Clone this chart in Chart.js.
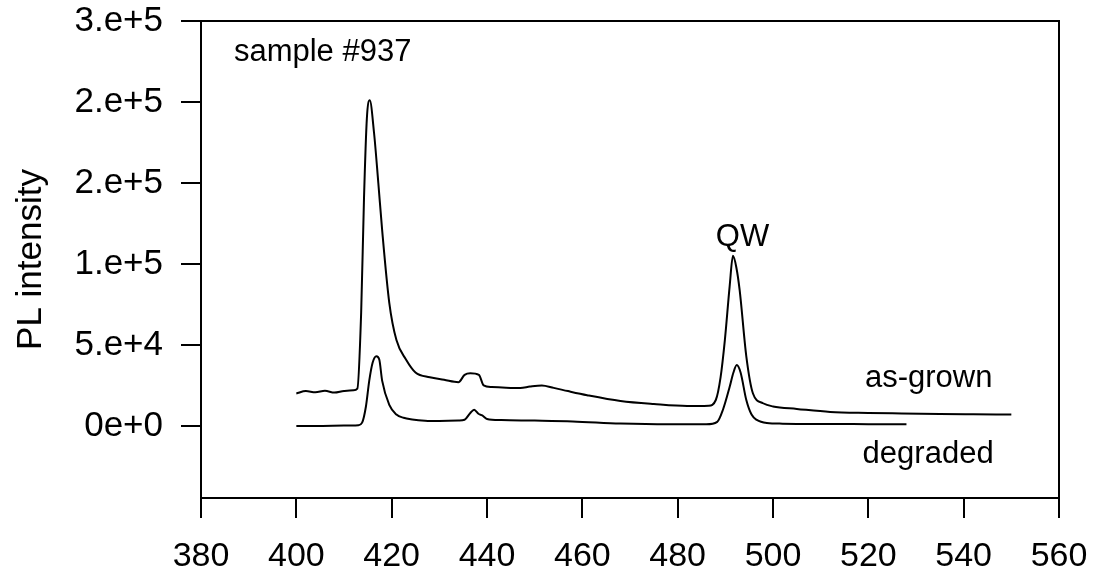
<!DOCTYPE html>
<html lang="en">
<head>
    <meta charset="UTF-8">
    <title>PL intensity - sample #937</title>
    <style>
        html, body { margin: 0; padding: 0; background: #ffffff; }
        #wrap { width: 1098px; height: 580px; }
    </style>
</head>
<body>
    <div id="wrap">
        <canvas id="plChart" width="1098" height="580"></canvas>
    </div>

    <script src="https://cdn.jsdelivr.net/npm/chart.js"></script>
    <script>
        // wavelength (nm) and PL intensity
        const asGrownX = [400, 402, 404, 406, 408, 410, 412, 412.8, 413.6, 414.2, 414.8, 415.4, 416.3, 417.2, 418, 419.5, 421, 423, 425, 428, 431, 434, 435.3, 436.5, 438.3, 439.3, 441, 444, 447, 449, 451.5, 454, 457, 461, 468, 475, 482, 486.5, 488, 489, 489.9, 490.9, 491.6, 492.3, 493, 494.4, 495.8, 497.9, 500, 505, 512, 520, 527, 535, 542, 550];
        const asGrownY = [20000, 21500, 20800, 21700, 20600, 21600, 22000, 23000, 70000, 141000, 190000, 201000, 181000, 150000, 121000, 76000, 53000, 41000, 33000, 30000, 28500, 27000, 31500, 32500, 31500, 25000, 24000, 23600, 23400, 24300, 25000, 23500, 21500, 19000, 15400, 13500, 12300, 12500, 16000, 30000, 53000, 86000, 105000, 98000, 84000, 43000, 20000, 14000, 12000, 10500, 8600, 8000, 7700, 7400, 7200, 7000];

        const degradedX = [400, 405, 410, 413, 413.8, 414.6, 415.3, 416, 416.8, 417.4, 418, 419.5, 421, 422.5, 424.3, 427, 430, 434, 435.3, 436.5, 437.3, 438.2, 439, 440, 443, 450, 458, 468, 478, 486, 488.3, 489.5, 490.9, 491.7, 492.4, 493.2, 494.4, 495.5, 496.6, 498.7, 502, 512, 520, 528];
        const degradedY = [0, 0, 200, 400, 2000, 12000, 28000, 39000, 43000, 41000, 28000, 13000, 7000, 5000, 4000, 3200, 3000, 3300, 3800, 8000, 10000, 7500, 6500, 4300, 3600, 3300, 2800, 1500, 1000, 1000, 2500, 10000, 24000, 33000, 37600, 33000, 16000, 7000, 3700, 1800, 1400, 1200, 1100, 1000];

        const xTicks = [380, 400, 420, 440, 460, 480, 500, 520, 540, 560];
        const yTickValues = [0, 50000, 100000, 150000, 200000, 250000];
        const yTickLabels = ['0e+0', '5.e+4', '1.e+5', '2.e+5', '2.e+5', '3.e+5'];

        // text labels placed in data units
        const notes = [
            { text: 'sample #937', x: 386.9, y: 225300, align: 'left' },
            { text: 'QW', x: 493.6, y: 111100, align: 'center' },
            { text: 'as-grown', x: 519.3, y: 24100, align: 'left' },
            { text: 'degraded', x: 518.8, y: -22800, align: 'left' }
        ];

        const FONT = "'Liberation Sans', Arial, Helvetica, sans-serif";

        function toPoints(xs, ys) {
            return xs.map((x, i) => ({ x: x, y: ys[i] }));
        }

        // keep tick label overhang from pushing the plot area around
        function noOverhang(s) {
            s.paddingTop = 0;
            s.paddingBottom = 0;
            s.paddingLeft = 0;
            s.paddingRight = 0;
        }

        const framePlugin = {
            id: 'frameAndNotes',
            afterDraw(chart) {
                const { ctx, chartArea, scales } = chart;
                ctx.save();
                ctx.strokeStyle = '#000';
                ctx.lineWidth = 2;
                ctx.strokeRect(chartArea.left, chartArea.top, chartArea.right - chartArea.left, chartArea.bottom - chartArea.top);

                ctx.fillStyle = '#000';
                ctx.font = '31px ' + FONT;
                ctx.textBaseline = 'alphabetic';
                notes.forEach(n => {
                    ctx.textAlign = n.align;
                    ctx.fillText(n.text, scales.x.getPixelForValue(n.x), scales.y.getPixelForValue(n.y));
                });
                ctx.restore();
            }
        };

        const ctx = document.getElementById('plChart').getContext('2d');
        new Chart(ctx, {
            type: 'line',
            data: {
                datasets: [{
                    label: 'as-grown',
                    data: toPoints(asGrownX, asGrownY),
                    borderColor: '#000',
                    borderWidth: 2,
                    pointRadius: 0,
                    cubicInterpolationMode: 'monotone',
                    fill: false
                }, {
                    label: 'degraded',
                    data: toPoints(degradedX, degradedY),
                    borderColor: '#000',
                    borderWidth: 2,
                    pointRadius: 0,
                    cubicInterpolationMode: 'monotone',
                    fill: false
                }]
            },
            options: {
                responsive: false,
                animation: false,
                layout: { padding: { top: 21, right: 39, left: 0, bottom: 0 } },
                plugins: {
                    legend: { display: false },
                    tooltip: { enabled: false }
                },
                scales: {
                    x: {
                        type: 'linear',
                        min: 380,
                        max: 560,
                        afterBuildTicks: s => { s.ticks = xTicks.map(v => ({ value: v })); },
                        afterFit: s => { s.height = 82; noOverhang(s); },
                        border: { display: true, color: '#000', width: 2 },
                        grid: { drawOnChartArea: false, drawTicks: true, tickLength: 20, color: '#000', lineWidth: 2 },
                        ticks: { color: '#000', padding: 18, maxRotation: 0, font: { family: FONT, size: 34 } }
                    },
                    y: {
                        type: 'linear',
                        min: -44500,
                        max: 250000,
                        afterBuildTicks: s => { s.ticks = yTickValues.map(v => ({ value: v })); },
                        afterFit: s => { s.width = 201; noOverhang(s); },
                        border: { display: true, color: '#000', width: 2 },
                        grid: { drawOnChartArea: false, drawTicks: true, tickLength: 20, color: '#000', lineWidth: 2 },
                        ticks: {
                            color: '#000',
                            padding: 18,
                            font: { family: FONT, size: 35 },
                            callback: v => {
                                const i = yTickValues.indexOf(v);
                                return i >= 0 ? yTickLabels[i] : '';
                            }
                        },
                        title: {
                            display: true,
                            text: 'PL intensity',
                            color: '#000',
                            padding: { top: 10, bottom: 0 },
                            font: { family: FONT, size: 35 }
                        }
                    }
                }
            },
            plugins: [framePlugin]
        });
    </script>
</body>
</html>
